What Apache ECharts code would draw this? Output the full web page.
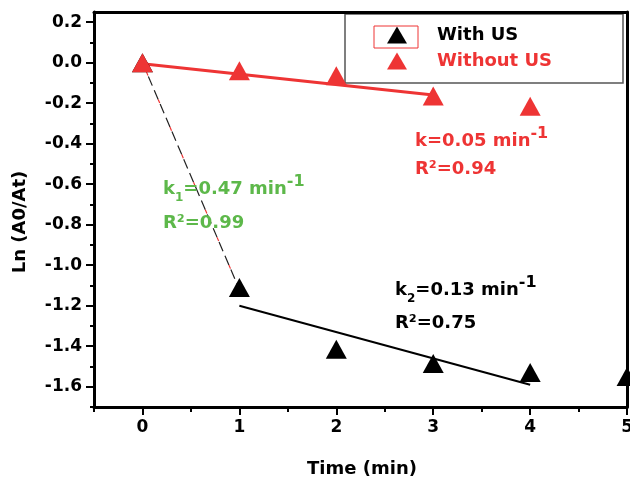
<!DOCTYPE html>
<html><head><meta charset="utf-8">
<script src="https://cdn.jsdelivr.net/npm/echarts@6/dist/echarts.min.js"></script>
<style>html,body{margin:0;padding:0;background:#fff}#c{width:636px;height:482px}</style>
</head><body><div id="c"></div>
<script>
// ---- data ----
const timeWith = [0, 1, 2, 3, 4, 5];
const withUS = [0, -1.11, -1.415, -1.485, -1.53, -1.55];
const timeWithout = [0, 1, 2, 3, 4];
const withoutUS = [0, -0.04, -0.065, -0.165, -0.215];
const fitWithoutX = [0, 3];
const fitWithoutY = [-0.005, -0.16];
const fit1X = [0, 1];
const fit1Y = [0, -1.12];
const fit2X = [1, 4];
const fit2Y = [-1.2, -1.59];
const xTicks = [0, 1, 2, 3, 4, 5];
const xMinorTicks = [-0.5, 0.5, 1.5, 2.5, 3.5, 4.5];
const yTicks = [-1.6, -1.4, -1.2, -1.0, -0.8, -0.6, -0.4, -0.2, 0.0, 0.2];
const yMinorTicks = [-1.7, -1.5, -1.3, -1.1, -0.9, -0.7, -0.5, -0.3, -0.1, 0.1];
const seriesNames = ['With US', 'Without US'];

const F = 'DejaVu Sans';
const RED = '#ee3434';
const GREEN = '#5db84a';
const pts = (xs, ys) => xs.map((x, i) => [x, ys[i]]);

const chart = echarts.init(document.getElementById('c'), null, {renderer: 'canvas'});
const lineAx = {show: true, onZero: false, lineStyle: {color: '#000', width: 3}};
const hiddenAx = {show: false, onZero: false};
const noLabel = {show: false};
function richFor(color) {
  return {
    b: {fontSize: 18, fontWeight: 'bold', fontFamily: F, fill: color, lineHeight: 30, verticalAlign: 'middle'},
    sub: {fontSize: 12, fontWeight: 'bold', fontFamily: F, fill: color, lineHeight: 12, verticalAlign: 'bottom'},
    sup: {fontSize: 16, fontWeight: 'bold', fontFamily: F, fill: color, lineHeight: 16, verticalAlign: 'top'}
  };
}
function kText(x, y, str, color) {
  return {type: 'text', left: x, top: y, z: 50,
    style: {text: str, rich: richFor(color), fill: color, fontFamily: F, fontWeight: 'bold', fontSize: 18}};
}
function rText(x, y, str, color) {
  return {type: 'text', left: x, top: y, z: 50,
    style: {text: str, fill: color, fontFamily: F, fontWeight: 'bold', fontSize: 18}};
}

chart.setOption({
  animation: false,
  grid: {left: 94, right: 8, top: 12, bottom: 75, containLabel: false},
  xAxis: [
    {type: 'value', min: -0.5, max: 5, position: 'bottom', axisLine: lineAx,
     axisTick: {show: true, customValues: xTicks, length: 8, lineStyle: {color: '#000', width: 2}},
     axisLabel: {show: true, customValues: xTicks, margin: 12, color: '#000', fontFamily: F, fontWeight: 'bold', fontSize: 17,
       formatter: v => String(v)},
     splitLine: {show: false}},
    {type: 'value', min: -0.5, max: 5, position: 'bottom', axisLine: hiddenAx,
     axisTick: {show: true, customValues: xMinorTicks, length: 5, lineStyle: {color: '#000', width: 2}},
     axisLabel: noLabel, splitLine: {show: false}},
    {type: 'value', min: -0.5, max: 5, position: 'top', axisLine: lineAx,
     axisTick: {show: false}, axisLabel: noLabel, splitLine: {show: false}}
  ],
  yAxis: [
    {type: 'value', min: -1.7, max: 0.25, position: 'left', axisLine: lineAx,
     axisTick: {show: true, customValues: yTicks, length: 8, lineStyle: {color: '#000', width: 2}},
     axisLabel: {show: true, customValues: yTicks, margin: 12, color: '#000', fontFamily: F, fontWeight: 'bold', fontSize: 17,
       formatter: v => Number(v).toFixed(1)},
     splitLine: {show: false}},
    {type: 'value', min: -1.7, max: 0.25, position: 'left', axisLine: hiddenAx,
     axisTick: {show: true, customValues: yMinorTicks, length: 4, lineStyle: {color: '#000', width: 2}},
     axisLabel: noLabel, splitLine: {show: false}},
    {type: 'value', min: -1.7, max: 0.25, position: 'right', axisLine: lineAx,
     axisTick: {show: false}, axisLabel: noLabel, splitLine: {show: false}}
  ],
  legend: {
    show: true, orient: 'vertical', left: 382, top: 21, itemWidth: 20, itemHeight: 17, itemGap: 8,
    icon: 'triangle', selectedMode: false,
    textStyle: {fontFamily: F, fontWeight: 'bold', fontSize: 18, padding: [0, 0, 0, 25]},
    data: [
      {name: seriesNames[0], textStyle: {color: '#000'}},
      {name: seriesNames[1], textStyle: {color: RED}}
    ]
  },
  series: [
    {name: 'fit1-black', type: 'line', data: pts(fit1X, fit1Y), showSymbol: false, silent: true, z: 3,
     lineStyle: {color: '#222', width: 1.2, type: [10, 5]}},
    {name: 'fit1-red', type: 'line', data: pts(fit1X, fit1Y), showSymbol: false, silent: true, z: 3,
     lineStyle: {color: RED, width: 1.2, type: [4, 26], dashOffset: -10}},
    {name: 'fit2', type: 'line', data: pts(fit2X, fit2Y), showSymbol: false, silent: true, z: 3,
     lineStyle: {color: '#000', width: 2}},
    {name: 'fitWithout', type: 'line', data: pts(fitWithoutX, fitWithoutY), showSymbol: false, silent: true, z: 3,
     lineStyle: {color: RED, width: 3}},
    {name: seriesNames[0], type: 'scatter', data: pts(timeWith, withUS), symbol: 'triangle', symbolSize: [21, 19],
     itemStyle: {color: '#000', opacity: 1}, z: 4},
    {name: seriesNames[1], type: 'scatter', data: pts(timeWithout, withoutUS), symbol: 'triangle', symbolSize: [21, 19],
     itemStyle: {color: RED, opacity: 1}, z: 5}
  ],
  graphic: [
    {type: 'rect', shape: {x: 345, y: 14, width: 278, height: 69}, z: 0,
     style: {fill: '#fff', stroke: '#555', lineWidth: 1.5}},
    {type: 'rect', shape: {x: 374, y: 26, width: 44, height: 22}, z: 60,
     style: {fill: 'none', stroke: RED, lineWidth: 1}},
    {type: 'rect', shape: {x: 630, y: 0, width: 6, height: 482}, z: 100, style: {fill: '#fff'}},
    {type: 'text', x: 20, y: 222, rotation: Math.PI / 2, z: 50,
     style: {text: 'Ln (A0/At)', fill: '#000', fontFamily: F, fontWeight: 'bold', fontSize: 18, align: 'center', verticalAlign: 'middle'}},
    {type: 'text', x: 362, y: 469, z: 50,
     style: {text: 'Time (min)', fill: '#000', fontFamily: F, fontWeight: 'bold', fontSize: 18, align: 'center', verticalAlign: 'middle'}},
    kText(163, 174, '{b|k}{sub|1}{b|=0.47 min}{sup|-1}', GREEN),
    rText(163, 214, 'R²=0.99', GREEN),
    kText(415, 126, '{b|k=0.05 min}{sup|-1}', RED),
    rText(415, 160, 'R²=0.94', RED),
    kText(395, 275, '{b|k}{sub|2}{b|=0.13 min}{sup|-1}', '#000'),
    rText(395, 314, 'R²=0.75', '#000')
  ]
});
</script></body></html>
